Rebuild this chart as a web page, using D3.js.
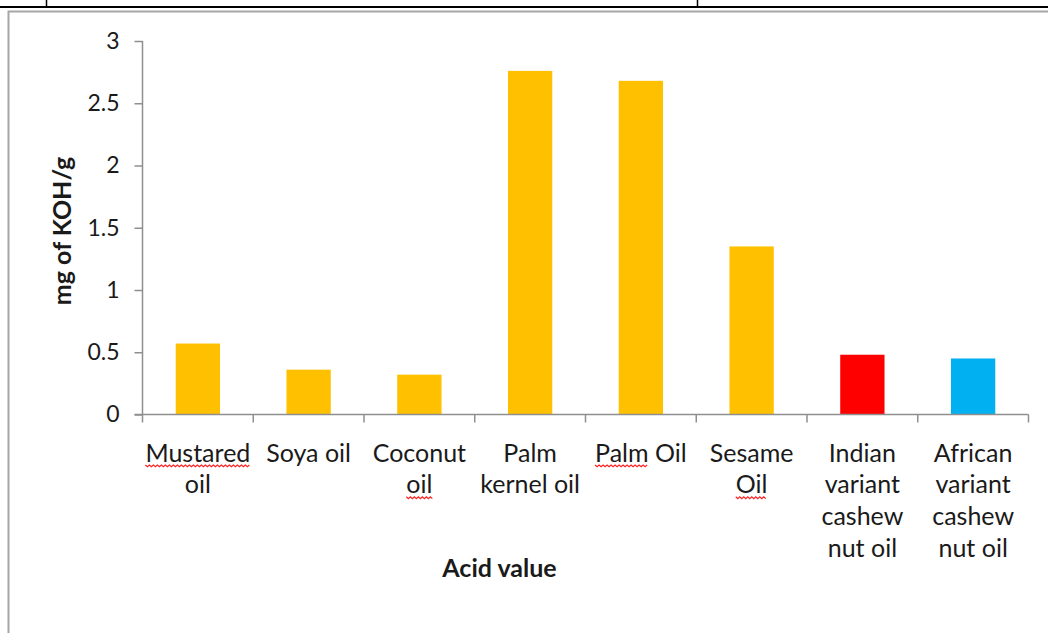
<!DOCTYPE html>
<html>
<head>
<meta charset="utf-8">
<script src="https://cdn.jsdelivr.net/npm/d3@7"></script>
<style>
  html, body { margin: 0; padding: 0; background: #fff; }
  svg { display: block; }
  text { font-family: Lato, "Open Sans", sans-serif; fill: #1a1a1a; }
</style>
</head>
<body>
<svg id="chart" width="1048" height="633"></svg>
<script>
// ---- data ----
const categories = ["Mustared oil", "Soya oil", "Coconut oil", "Palm kernel oil", "Palm Oil", "Sesame Oil", "Indian variant cashew nut oil", "African variant cashew nut oil"];
const labelLines = [["Mustared", "oil"], ["Soya oil"], ["Coconut", "oil"], ["Palm", "kernel oil"], ["Palm Oil"], ["Sesame", "Oil"], ["Indian", "variant", "cashew", "nut oil"], ["African", "variant", "cashew", "nut oil"]];
const acidValues = [0.57, 0.36, 0.32, 2.76, 2.68, 1.35, 0.48, 0.45];
const barColors = ["#FFC000", "#FFC000", "#FFC000", "#FFC000", "#FFC000", "#FFC000", "#FF0000", "#00B0F0"];
const yTicks = [0, 0.5, 1, 1.5, 2, 2.5, 3];
// words with spell-check underline: [category index, line index, word]
const spellMarks = [[0, 0, "Mustared"], [2, 1, "oil"], [4, 0, "Palm"], [5, 1, "Oil"]];
const yTitle = "mg of KOH/g";
const xTitle = "Acid value";

const svg = d3.select("#chart");

// ---- page decoration (document frame) ----
svg.append("line").attr("x1", 0).attr("x2", 1048).attr("y1", 7).attr("y2", 7)
  .attr("stroke", "#000").attr("stroke-width", 2);
[46.5, 697.5].forEach(x => svg.append("line").attr("x1", x).attr("x2", x).attr("y1", 0).attr("y2", 7)
  .attr("stroke", "#000").attr("stroke-width", 1.5));
svg.append("rect").attr("x", 8.5).attr("y", 11.5).attr("width", 1100).attr("height", 700)
  .attr("fill", "none").attr("stroke", "#a6a6a6").attr("stroke-width", 2);

// ---- scales ----
const x = d3.scaleBand().domain(categories).range([142.5, 1028.5]).paddingInner(0.6).paddingOuter(0.3);
const y = d3.scaleLinear().domain([0, 3]).range([414.5, 41]);

// ---- bars ----
svg.append("g").selectAll("rect").data(categories).join("rect")
  .attr("x", d => x(d))
  .attr("y", (d, i) => y(acidValues[i]))
  .attr("width", x.bandwidth())
  .attr("height", (d, i) => y(0) - y(acidValues[i]))
  .attr("fill", (d, i) => barColors[i]);

// ---- y axis ----
const yAxis = svg.append("g").attr("transform", "translate(142.5,0)")
  .call(d3.axisLeft(y).tickValues(yTicks).tickSize(8).tickPadding(15).tickFormat(d3.format("~g")));
yAxis.selectAll("path, line").attr("stroke", "#8f8f8f").attr("stroke-width", 1.5);
yAxis.select(".domain").attr("d", `M0,${y(3)}H0V${y(0)}`);
yAxis.selectAll("text").attr("font-size", 23).attr("font-family", "Lato, sans-serif").attr("fill", "#1a1a1a");

// ---- x axis (line + boundary ticks) ----
const step = x.step();
const x0 = x.range()[0], x1 = x.range()[1];
const xAxisG = svg.append("g");
xAxisG.append("line").attr("x1", x0 - 8).attr("x2", x1).attr("y1", y(0)).attr("y2", y(0))
  .attr("stroke", "#8f8f8f").attr("stroke-width", 1.5);
const boundaries = d3.range(categories.length + 1).map(i => x0 + i * step);
xAxisG.selectAll("line.tick").data(boundaries).join("line").attr("class", "tick")
  .attr("x1", d => d).attr("x2", d => d).attr("y1", y(0)).attr("y2", y(0) + 8)
  .attr("stroke", "#8f8f8f").attr("stroke-width", 1.5);

// ---- x category labels ----
const labelG = svg.append("g");
const lineH = 31.8;
const firstBase = 461.5;
const textNodes = {};
categories.forEach((c, i) => {
  const cx = x(c) + x.bandwidth() / 2;
  labelLines[i].forEach((ln, j) => {
    const t = labelG.append("text").attr("x", cx).attr("y", firstBase + j * lineH)
      .attr("text-anchor", "middle").attr("font-size", 25).text(ln);
    textNodes[i + "_" + j] = t.node();
  });
});

// ---- spell-check squiggles ----
spellMarks.forEach(([ci, li, word]) => {
  const node = textNodes[ci + "_" + li];
  const str = labelLines[ci][li];
  const idx = str.indexOf(word);
  const sx = node.getStartPositionOfChar(idx).x;
  const len = node.getSubStringLength(idx, word.length);
  const by = firstBase + li * lineH + 3.5;
  let d = `M${sx},${by}`;
  const w = 2;
  let k = 0;
  for (let px = sx + w; px <= sx + len + 0.1; px += w, k++) {
    d += `L${px},${by + (k % 2 === 0 ? 1.8 : 0)}`;
  }
  svg.append("path").attr("d", d).attr("fill", "none").attr("stroke", "#ff2020").attr("stroke-width", 1.2);
});

// ---- axis titles ----
svg.append("text").attr("transform", "translate(71,231) rotate(-90)")
  .attr("text-anchor", "middle").attr("font-size", 25).attr("font-weight", "bold").text(yTitle);
svg.append("text").attr("x", 499.5).attr("y", 577)
  .attr("text-anchor", "middle").attr("font-size", 25).attr("font-weight", "bold").text(xTitle);
</script>
</body>
</html>
